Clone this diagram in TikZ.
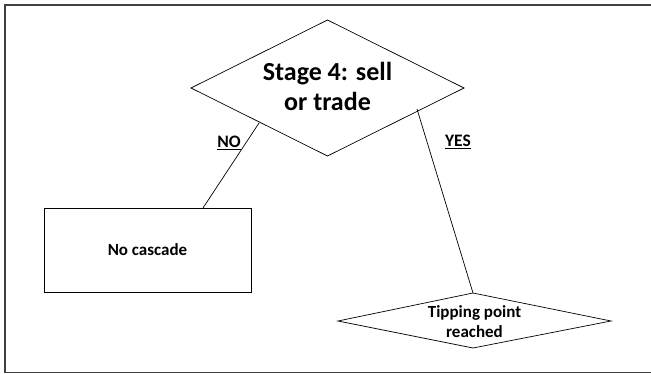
\documentclass[tikz,border=0pt]{standalone}
\usepackage{fontspec}
\setmainfont{Carlito}
\begin{document}
\begin{tikzpicture}[x=1pt,y=-1pt,
  line width=0.7pt,
  every node/.style={font=\bfseries, inner sep=0pt},
  label text/.style={align=center},
  branchlabel/.style={font=\bfseries\fontsize{17.5}{20}\selectfont}
]
\useasboundingbox (0,0) rectangle (651,374);
% frame
\draw[line width=1.6pt, black!75] (651,5) -- (5,5) -- (5,372.5) -- (651,372.5);

% main decision diamond
\coordinate (sT) at (327.5,20);
\coordinate (sL) at (191,88);
\coordinate (sR) at (464,88);
\coordinate (sB) at (327.5,156);
\draw (sT) -- (sR) -- (sB) -- (sL) -- cycle;
\node[label text, font=\bfseries\fontsize{26}{30}\selectfont] (stage) at (327.5,86) {Stage 4: sell\\or trade};

% no-cascade box
\draw (44,208) rectangle (251,292);
\node[label text, font=\bfseries\fontsize{17}{20}\selectfont] (nocasc) at (147.5,250) {No cascade};

% tipping-point diamond
\coordinate (tT) at (473,293);
\coordinate (tL) at (338,321);
\coordinate (tR) at (611,321);
\coordinate (tB) at (473,348);
\draw (tT) -- (tR) -- (tB) -- (tL) -- cycle;
\node[label text, font=\bfseries\fontsize{17}{20}\selectfont] (tip) at (474.5,322) {Tipping point\\reached};

% connectors
\coordinate (noA) at (259,123);
\coordinate (noB) at (203,208);
\coordinate (yesA) at (417,109);
\draw (noA) -- (noB);
\draw (yesA) -- (tT);

% branch labels
\node[branchlabel] (nolab) at (229,143) {\underline{NO}};
\node[branchlabel] (yeslab) at (458,142) {\underline{YES}};
\end{tikzpicture}
\end{document}
